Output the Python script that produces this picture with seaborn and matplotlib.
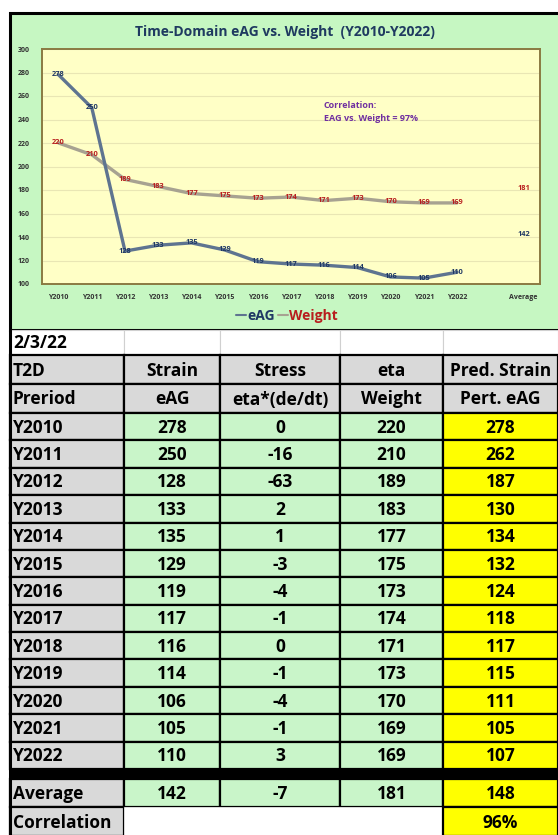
import matplotlib
matplotlib.use("Agg")
import matplotlib.pyplot as plt
import seaborn as sns
import pandas as pd
from matplotlib.patches import Rectangle
from matplotlib.lines import Line2D

years = ["Y2010", "Y2011", "Y2012", "Y2013", "Y2014", "Y2015", "Y2016",
         "Y2017", "Y2018", "Y2019", "Y2020", "Y2021", "Y2022"]
eag = [278, 250, 128, 133, 135, 129, 119, 117, 116, 114, 106, 105, 110]
stress = [0, -16, -63, 2, 1, -3, -4, -1, 0, -1, -4, -1, 3]
weight = [220, 210, 189, 183, 177, 175, 173, 174, 171, 173, 170, 169, 169]
pred = [278, 262, 187, 130, 134, 132, 124, 118, 117, 115, 111, 105, 107]
avg_row = [142, -7, 181, 148]
pred_corr = "96%"
chart_corr = "97%"
date_label = "2/3/22"
header1 = ["T2D", "Strain", "Stress", "eta", "Pred. Strain"]
header2 = ["Preriod", "eAG", "eta*(de/dt)", "Weight", "Pert. eAG"]
x_labels = years + ["", "Average"]

# colours
CHART_GREEN = "#C6F7C2"
PLOT_YELLOW = "#FFFFC6"
CELL_GREEN = "#C9F5C9"
CELL_GRAY = "#D9D9D9"
CELL_YELLOW = "#FFFF00"
NAVY = "#1F3864"
DARK_RED = "#B81E1E"
EAG_LINE = "#5E7490"
WT_LINE = "#A7A291"

sns.set_style("white")
plt.rcParams["font.family"] = ["Open Sans", "DejaVu Sans"]
plt.rcParams["font.weight"] = "bold"

W, H = 558, 835
fig = plt.figure(figsize=(W / 100, H / 100), dpi=100)

# background axes in pixel coordinates
bg = fig.add_axes([0, 0, 1, 1])
bg.set_xlim(0, W)
bg.set_ylim(H, 0)
bg.axis("off")
bg.set_zorder(0)

# green chart box
bg.add_patch(Rectangle((10, 13), W, 317, fc=CHART_GREEN, ec="black", lw=2.2))

# ---------- chart ----------
ax = fig.add_axes([42 / W, 1 - 284 / H, (540 - 42) / W, (284 - 49) / H])
ax.set_zorder(2)
ax.set_facecolor(PLOT_YELLOW)

df = pd.DataFrame({"pos": range(len(years)), "eAG": eag, "Weight": weight})
sns.lineplot(data=df, x="pos", y="Weight", ax=ax, color=WT_LINE, linewidth=2.4)
sns.lineplot(data=df, x="pos", y="eAG", ax=ax, color=EAG_LINE, linewidth=2.4)

for i, v in enumerate(eag):
    ax.text(i, v, str(v), ha="center", va="center", fontsize=5.3,
            fontweight="bold", color=NAVY, zorder=5)
for i, v in enumerate(weight):
    ax.text(i, v, str(v), ha="center", va="center", fontsize=5.3,
            fontweight="bold", color=DARK_RED, zorder=5)

avg_pos = len(x_labels) - 1
ax.text(avg_pos, avg_row[0], str(avg_row[0]), ha="center", va="center",
        fontsize=5.3, fontweight="bold", color=NAVY)
ax.text(avg_pos, avg_row[2], str(avg_row[2]), ha="center", va="center",
        fontsize=5.3, fontweight="bold", color=DARK_RED)

ax.set_xlim(-0.5, len(x_labels) - 0.5)
ax.set_ylim(100, 300)
ax.set_yticks(range(100, 301, 20))
ax.set_xticks(range(len(x_labels)))
ax.set_xticklabels(x_labels)
ax.tick_params(axis="both", length=0, labelsize=5, colors="#333333")
ax.tick_params(axis="y", pad=9)
ax.tick_params(axis="x", pad=7)
for lab in ax.get_xticklabels() + ax.get_yticklabels():
    lab.set_fontweight("bold")
ax.set_xlabel("")
ax.set_ylabel("")
ax.grid(axis="y", color="#E9E6B4", linewidth=0.8)
ax.set_axisbelow(True)
for s in ax.spines.values():
    s.set_color("#8A7A42")
    s.set_linewidth(1.4)

fig.text(285 / W, 1 - 32 / H, "Time-Domain eAG vs. Weight  (Y2010-Y2022)",
         ha="center", va="center", fontsize=10, fontweight="bold", color="#1F3A60")
fig.text(324 / W, 1 - 112 / H, "Correlation:\nEAG vs. Weight = " + chart_corr,
         ha="left", va="center", fontsize=6.5, fontweight="bold",
         color="#7030A0", linespacing=1.5)

handles = [Line2D([], [], color=EAG_LINE, lw=1.5), Line2D([], [], color=WT_LINE, lw=1.5)]
leg = fig.legend(handles, ["eAG", "Weight"], loc="center", ncol=2,
                 bbox_to_anchor=(287 / W, 1 - 316 / H), frameon=False,
                 handlelength=0.7, handletextpad=0.1, columnspacing=0.2,
                 prop={"size": 10, "weight": "bold"})
leg.get_texts()[0].set_color(NAVY)
leg.get_texts()[1].set_color(DARK_RED)

# ---------- table ----------
cols = [10, 124, 220, 340, 443, W]
FS = 12.5


def cell(x0, x1, y0, y1, fc, text="", left=False, ec="black", lw=1.6):
    bg.add_patch(Rectangle((x0, y0), x1 - x0, y1 - y0, fc=fc, ec=ec, lw=lw))
    if text != "":
        if left:
            bg.text(x0 + 3, (y0 + y1) / 2 + 1, text, ha="left", va="center",
                    fontsize=FS, fontweight="bold", color="black")
        else:
            bg.text((x0 + x1) / 2, (y0 + y1) / 2 + 1, text, ha="center",
                    va="center", fontsize=FS, fontweight="bold", color="black")


# date row
for c in range(5):
    cell(cols[c], cols[c + 1], 330, 355, "white",
         date_label if c == 0 else "", left=(c == 0), ec="#D0D0D0", lw=0.8)

# header rows
for c in range(5):
    cell(cols[c], cols[c + 1], 355, 384, CELL_GRAY, header1[c], left=(c == 0))
    cell(cols[c], cols[c + 1], 384, 413, CELL_GRAY, header2[c], left=(c == 0))

# data rows
rh = (769 - 413) / len(years)
for r in range(len(years)):
    y0 = 413 + r * rh
    y1 = y0 + rh
    cell(cols[0], cols[1], y0, y1, CELL_GRAY, years[r], left=True)
    cell(cols[1], cols[2], y0, y1, CELL_GREEN, str(eag[r]))
    cell(cols[2], cols[3], y0, y1, CELL_GREEN, str(stress[r]))
    cell(cols[3], cols[4], y0, y1, CELL_GREEN, str(weight[r]))
    cell(cols[4], cols[5], y0, y1, CELL_YELLOW, str(pred[r]))

# thick separator
bg.add_patch(Rectangle((cols[0], 769), W - cols[0], 10, fc="black", ec="black"))

# average row
cell(cols[0], cols[1], 779, 807, CELL_GRAY, "Average", left=True)
cell(cols[1], cols[2], 779, 807, CELL_GREEN, str(avg_row[0]))
cell(cols[2], cols[3], 779, 807, CELL_GREEN, str(avg_row[1]))
cell(cols[3], cols[4], 779, 807, CELL_GREEN, str(avg_row[2]))
cell(cols[4], cols[5], 779, 807, CELL_YELLOW, str(avg_row[3]))

# correlation row
cell(cols[0], cols[1], 807, 836, CELL_GRAY, "Correlation", left=True)
cell(cols[1], cols[4], 807, 836, "white", ec="white", lw=0.5)
cell(cols[4], cols[5], 807, 836, CELL_YELLOW, pred_corr)

bg.plot([cols[0], cols[0]], [330, H], color="black", lw=2.2)

fig.savefig("out.png", dpi=100)
